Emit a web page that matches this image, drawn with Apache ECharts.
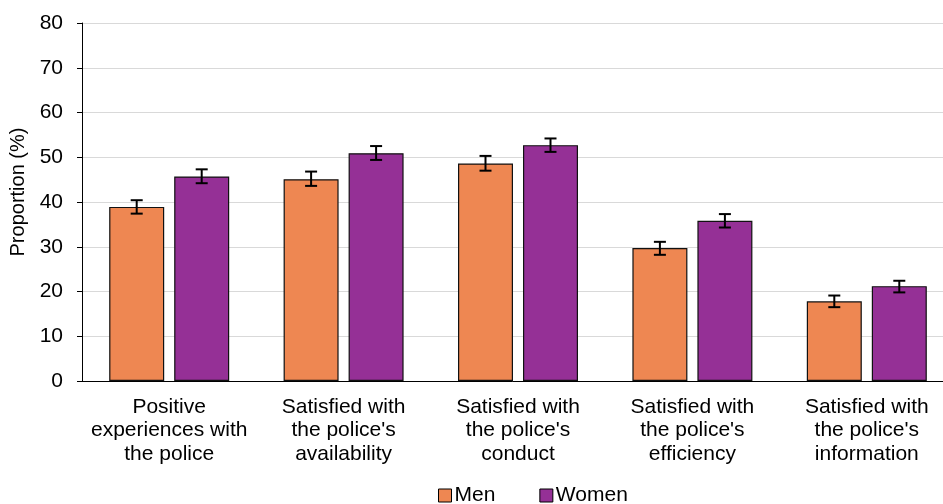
<!DOCTYPE html>
<html><head><meta charset="utf-8">
<script src="https://cdn.jsdelivr.net/npm/echarts@6/dist/echarts.min.js"></script>
<style>html,body{margin:0;padding:0;background:#fff;overflow:hidden}#c{width:943px;height:504px}</style>
</head><body><div id="c"></div>
<script>
var categories = ["Positive\nexperiences with\nthe police", "Satisfied with\nthe police's\navailability", "Satisfied with\nthe police's\nconduct", "Satisfied with\nthe police's\nefficiency", "Satisfied with\nthe police's\ninformation"];
var menValues = [38.9, 45.1, 48.6, 29.7, 17.8];
var menLow = [37.4, 43.6, 47.0, 28.2, 16.5];
var menHigh = [40.4, 46.8, 50.3, 31.1, 19.1];
var womenValues = [45.7, 50.9, 52.7, 35.8, 21.2];
var womenLow = [44.2, 49.4, 51.2, 34.3, 19.8];
var womenHigh = [47.3, 52.5, 54.2, 37.3, 22.4];
var yTicks = [0, 10, 20, 30, 40, 50, 60, 70, 80];

var FONT = '"Liberation Sans", Arial, sans-serif';
var BAR_W = 55, BAR_GAP = 10;
var OFFSET = (BAR_W + BAR_GAP) / 2;

function errData(low, high) {
  return low.map(function (l, i) { return [i, l, high[i]]; });
}
function errRender(sign) {
  return function (params, api) {
    var i = api.value(0);
    var lo = api.coord([i, api.value(1)]);
    var hi = api.coord([i, api.value(2)]);
    var x = lo[0] + sign * OFFSET;
    var cap = 6;
    var st = { stroke: '#000', lineWidth: 2 };
    return {
      type: 'group',
      children: [
        { type: 'line', shape: { x1: x, y1: lo[1], x2: x, y2: hi[1] }, style: st },
        { type: 'line', shape: { x1: x - cap, y1: lo[1], x2: x + cap, y2: lo[1] }, style: st },
        { type: 'line', shape: { x1: x - cap, y1: hi[1], x2: x + cap, y2: hi[1] }, style: st }
      ]
    };
  };
}

var chart = echarts.init(document.getElementById('c'), null, { renderer: 'canvas' });
chart.setOption({
  animation: false,
  textStyle: { fontFamily: FONT },
  grid: { left: 82, top: 23, width: 872, height: 358, outerBoundsMode: 'none', containLabel: false },
  legend: {
    data: ['Men', 'Women'],
    left: 433, top: 480,
    itemWidth: 13, itemHeight: 13, itemGap: 44,
    icon: 'rect',
    textStyle: { fontSize: 21, color: '#000', fontFamily: FONT, padding: [0, 0, 0, -2] },
    itemStyle: { borderColor: '#000', borderWidth: 1 }
  },
  xAxis: {
    type: 'category',
    data: categories,
    axisLine: { lineStyle: { color: '#000', width: 1 } },
    axisTick: { show: false },
    axisLabel: { interval: 0, fontSize: 21, color: '#000', lineHeight: 23.5, margin: 14, fontFamily: FONT }
  },
  yAxis: {
    type: 'value',
    min: yTicks[0], max: yTicks[yTicks.length - 1], interval: 10,
    name: 'Proportion (%)',
    nameLocation: 'middle',
    nameGap: 54,
    nameTextStyle: { fontSize: 20, color: '#000', fontFamily: FONT, padding: [0, 0, 0, 20] },
    axisLine: { show: true, lineStyle: { color: '#000', width: 1 } },
    axisTick: { show: true, length: 5, lineStyle: { color: '#000' } },
    axisLabel: { fontSize: 21, color: '#000', margin: 19, fontFamily: FONT },
    splitLine: { lineStyle: { color: '#d9d9d9', width: 1 } }
  },
  series: [
    { name: 'Men', type: 'bar', data: menValues, barWidth: BAR_W, barGap: (BAR_GAP / BAR_W * 100) + '%',
      itemStyle: { color: '#EE8752', borderColor: '#111', borderWidth: 1.2 } },
    { name: 'Women', type: 'bar', data: womenValues, barWidth: BAR_W,
      itemStyle: { color: '#953096', borderColor: '#111', borderWidth: 1.2 } },
    { name: 'MenErr', type: 'custom', data: errData(menLow, menHigh), renderItem: errRender(-1), z: 10, encode: { x: 0, y: [1, 2] } },
    { name: 'WomenErr', type: 'custom', data: errData(womenLow, womenHigh), renderItem: errRender(1), z: 10, encode: { x: 0, y: [1, 2] } }
  ]
});
</script></body></html>
